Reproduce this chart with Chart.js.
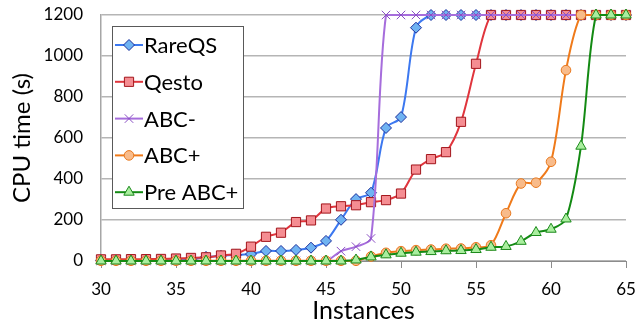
<!DOCTYPE html>
<html>
<head>
<meta charset="utf-8">
<script src="https://cdn.jsdelivr.net/npm/chart.js@4/dist/chart.umd.min.js"></script>
<style>
  html, body { margin: 0; padding: 0; background: #fff; }
  #wrap { width: 641px; height: 326px; }
</style>
</head>
<body>
<div id="wrap"><canvas id="cpuChart"></canvas></div>
<script>
let instances = [30, 31, 32, 33, 34, 35, 36, 37, 38, 39, 40, 41, 42, 43, 44, 45, 46, 47,
  48, 49, 50, 51, 52, 53, 54, 55, 56, 57, 58, 59, 60, 61, 62, 63, 64, 65];

let rareqs = [3, 3, 3, 4, 4, 5, 6, 20, 25, 30, 34, 49, 49, 54, 65, 98, 201, 302,
  333, 649, 702, 1138, 1200, 1200, 1200, 1200, 1200, 1200, 1200, 1200, 1200, 1200, 1200, 1200, 1200, 1200];

let qesto = [8, 8, 9, 9, 10, 12, 15, 18, 27, 35, 70, 118, 138, 190, 198, 256, 267, 272,
  287, 297, 329, 446, 497, 531, 679, 962, 1200, 1200, 1200, 1200, 1200, 1200, 1200, 1200, 1200, 1200];

let abcMinus = [0, 0, 0, 0, 0, 0, 0, 0, 0, 0, 0, 0, 0, 0, 0, 0, 48, 70,
  110, 1200, 1200, 1200, 1200, 1200, 1200, 1200, 1200, 1200, 1200, 1200, 1200, 1200, 1200, 1200, 1200, 1200];

let abcPlus = [1, 1, 1, 1, 1, 1, 1, 1, 1, 1, 1, 1, 1, 1, 1, 1, 1, 1,
  22, 40, 48, 53, 56, 60, 61, 67, 77, 233, 378, 382, 484, 931, 1200, 1200, 1200, 1200];

let preAbcPlus = [0, 0, 0, 0, 0, 0, 0, 0, 0, 0, 0, 0, 0, 0, 0, 0, 0, 5,
  20, 30, 38, 43, 46, 50, 51, 56, 67, 71, 96, 139, 155, 205, 560, 1200, 1200, 1200];

let yTicks = [0, 200, 400, 600, 800, 1000, 1200];
let xTicks = [30, 35, 40, 45, 50, 55, 60, 65];

const FONT = "Lato, 'Open Sans', sans-serif";

function pts(values) {
  return instances.map((x, i) => ({ x: x, y: values[i] }));
}

let series = [
  { label: "RareQS", data: rareqs, line: "#3c78f0", fill: "#6fb3f2", edge: "#1c2f9c", style: "rectRot", r: 5.5, order: 5 },
  { label: "Qesto", data: qesto, line: "#e0353d", fill: "#f58d92", edge: "#a3161c", style: "rect", r: 6.5, order: 4 },
  { label: "ABC-", data: abcMinus, line: "#a66ddc", fill: "#a66ddc", edge: "#8a4fc4", style: "crossRot", r: 6, order: 3 },
  { label: "ABC+", data: abcPlus, line: "#ef7a1a", fill: "#f8bb8a", edge: "#e8781e", style: "circle", r: 4.8, order: 2 },
  { label: "Pre ABC+", data: preAbcPlus, line: "#138a13", fill: "#a9ee9e", edge: "#1b8a1b", style: "triangle", r: 6, order: 1 },
];

// legend box drawn inside the plot, like the original
const boxLegend = {
  id: "boxLegend",
  afterDraw(chart) {
    const ctx = chart.ctx;
    const left = 112, top = 26, w = 131, h = 182;
    ctx.save();
    ctx.fillStyle = "#fff";
    ctx.fillRect(left, top, w, h);
    ctx.strokeStyle = "#595959";
    ctx.lineWidth = 1;
    ctx.strokeRect(left + 0.5, top + 0.5, w, h);
    ctx.font = "22px " + FONT;
    ctx.textBaseline = "middle";
    series.forEach((s, i) => {
      const y = 45 + i * 36.8;
      ctx.strokeStyle = s.line;
      ctx.lineWidth = 2;
      ctx.beginPath();
      ctx.moveTo(115, y);
      ctx.lineTo(143, y);
      ctx.stroke();
      ctx.fillStyle = s.fill;
      ctx.strokeStyle = s.edge;
      ctx.lineWidth = 1;
      Chart.helpers.drawPoint(ctx, { pointStyle: s.style, radius: s.r, rotation: 0, borderWidth: 1 }, 129, y);
      ctx.fillStyle = "#000";
      ctx.fillText(s.label, 144, y + 1);
    });
    ctx.restore();
  },
};

let ctx = document.getElementById("cpuChart").getContext("2d");
let cpuChart = new Chart(ctx, {
  type: "line",
  data: {
    datasets: series.map((s) => ({
      label: s.label,
      data: pts(s.data),
      borderColor: s.line,
      borderWidth: 2,
      backgroundColor: s.fill,
      pointStyle: s.style,
      pointRadius: s.r,
      pointBackgroundColor: s.fill,
      pointBorderColor: s.edge,
      pointBorderWidth: 1,
      tension: 0.3,
      order: s.order,
      clip: false,
    })),
  },
  options: {
    responsive: true,
    maintainAspectRatio: false,
    animation: false,
    layout: { padding: { top: 15, right: 15, left: 0, bottom: 0 } },
    plugins: {
      legend: { display: false },
      tooltip: { enabled: false },
    },
    scales: {
      x: {
        type: "linear",
        min: 30,
        max: 65,
        afterFit: (s) => { s.height = 65; s.paddingLeft = 0; s.paddingRight = 0; },
        afterBuildTicks: (s) => { s.ticks = xTicks.map((v) => ({ value: v })); },
        grid: { drawOnChartArea: false, drawTicks: true, tickLength: 7, color: "#8c8c8c", lineWidth: 1 },
        border: { color: "#8c8c8c", width: 1 },
        ticks: { color: "#000", font: { family: FONT, size: 17 }, padding: 11, maxRotation: 0 },
        title: { display: true, text: "Instances", color: "#000", font: { family: FONT, size: 25 }, padding: { top: 0, bottom: 0 } },
      },
      y: {
        min: 0,
        max: 1200,
        afterFit: (s) => { s.width = 101; s.paddingTop = 0; s.paddingBottom = 0; },
        afterBuildTicks: (s) => { s.ticks = yTicks.map((v) => ({ value: v })); },
        grid: { color: "#b5b5b5", lineWidth: 1.5, drawTicks: false },
        border: { color: "#a6a6a6", width: 1.5 },
        ticks: { color: "#000", font: { family: FONT, size: 17 }, padding: 18, callback: (v) => String(v) },
        title: { display: true, text: "CPU time (s)", color: "#000", font: { family: FONT, size: 24 }, padding: { top: 8, bottom: 0 } },
      },
    },
  },
  plugins: [boxLegend],
});
</script>
</body>
</html>
